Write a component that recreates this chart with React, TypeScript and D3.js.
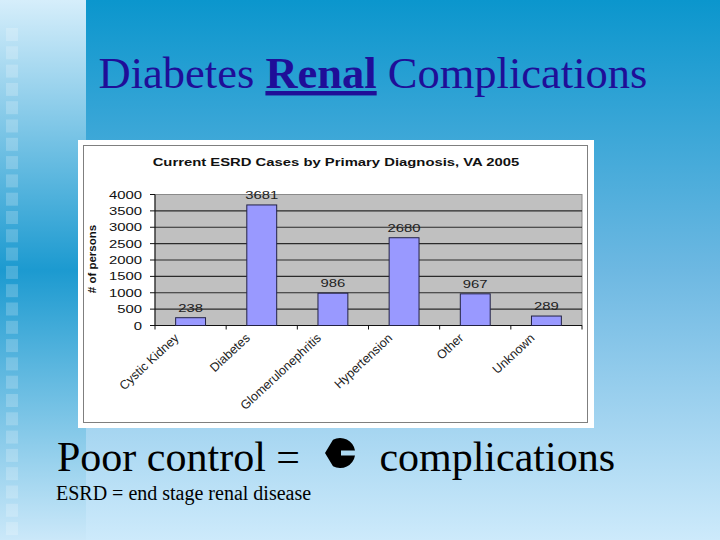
import React from "react";
import * as d3 from "d3";

const categories = ["Cystic Kidney", "Diabetes", "Glomerulonephritis", "Hypertension", "Other", "Unknown"];
const values = [238, 3681, 986, 2680, 967, 289];
const yTicks = [0, 500, 1000, 1500, 2000, 2500, 3000, 3500, 4000];
const chartTitle = "Current ESRD Cases by Primary Diagnosis, VA 2005";
const yTitle = "# of persons";

const W = 720, H = 540;
const PX0 = 155, PX1 = 582, PY0 = 194.5, PY1 = 325.5;
const SX = 1.35; // horizontal stretch of the pasted chart image

const SANS = { fontFamily: "Liberation Sans" };
const SERIF = { fontFamily: "Liberation Serif" };

export default function App() {
  const x = d3.scaleBand<string>().domain(categories).range([PX0, PX1]).paddingInner(0.58).paddingOuter(0.29);
  const y = d3.scaleLinear().domain([0, 4000]).range([PY1, PY0]);
  const step = x.step();
  const bw = x.bandwidth();
  const squares = d3.range(28).map((i) => 28 + i * 18.3);

  return (
    <svg width={W} height={H} style={{ display: "block", position: "absolute", left: 0, top: 0 }}>
      <defs>
        <linearGradient id="bgMain" x1="0" y1="0" x2="0" y2="1">
          <stop offset="0" stopColor="#0b96cd" />
          <stop offset="0.5" stopColor="#6db8e2" />
          <stop offset="1" stopColor="#cdeafb" />
        </linearGradient>
        <linearGradient id="bgLeft" x1="0" y1="0" x2="0" y2="1">
          <stop offset="0" stopColor="#d6eefb" />
          <stop offset="0.5" stopColor="#1c9ad0" />
          <stop offset="1" stopColor="#cbe8f9" />
        </linearGradient>
      </defs>
      <rect x={0} y={0} width={W} height={H} fill="url(#bgMain)" />
      <rect x={0} y={0} width={86} height={H} fill="url(#bgLeft)" />
      {squares.map((sy, i) => (
        <rect key={i} x={6} y={sy} width={12} height={13} fill="#ffffff" opacity={0.2} />
      ))}

      {/* Slide title */}
      <text x={373} y={88} textAnchor="middle" style={SERIF} fontSize={44.5} fill="#1f0e98">
        Diabetes <tspan fontWeight="bold" textDecoration="underline" style={SERIF}>Renal</tspan> Complications
      </text>

      {/* Chart box */}
      <rect x={78} y={140} width={516} height={288} fill="#ffffff" />
      <rect x={83.5} y={145.5} width={504} height={277} fill="none" stroke="#7f7f7f" strokeWidth={1} />
      <g transform={`translate(336,166) scale(${SX},1)`}>
        <text textAnchor="middle" style={SANS} fontWeight="bold" fontSize={11} fill="#111">{chartTitle}</text>
      </g>

      {/* Plot area */}
      <rect x={PX0} y={PY0} width={PX1 - PX0} height={PY1 - PY0} fill="#c0c0c0" stroke="#8a8a8a" strokeWidth={1} />
      {yTicks.filter((t) => t > 0 && t < 4000).map((t) => (
        <line key={t} x1={PX0} x2={PX1} y1={y(t)} y2={y(t)} stroke="#2a2a2a" strokeWidth={1.2} />
      ))}
      <line x1={PX0} x2={PX0} y1={PY0} y2={PY1} stroke="#111" strokeWidth={1} />
      <line x1={PX0} x2={PX1} y1={PY1} y2={PY1} stroke="#111" strokeWidth={1} />
      {yTicks.map((t) => (
        <g key={t}>
          <line x1={PX0 - 5} x2={PX0} y1={y(t)} y2={y(t)} stroke="#111" />
          <g transform={`translate(142,${y(t) + 4}) scale(${SX},1)`}>
            <text textAnchor="end" style={SANS} fontSize={11} fill="#111">{t}</text>
          </g>
        </g>
      ))}
      {d3.range(categories.length + 1).map((i) => (
        <line key={i} x1={PX0 + i * step} x2={PX0 + i * step} y1={PY1} y2={PY1 + 4} stroke="#111" />
      ))}

      {/* bars */}
      {categories.map((c, i) => (
        <g key={c}>
          <rect x={x(c)!} y={y(values[i])} width={bw} height={PY1 - y(values[i])} fill="#9999ff" stroke="#222244" strokeWidth={1} />
          <g transform={`translate(${x(c)! + bw / 2},${y(values[i]) - 6}) scale(${SX},1)`}>
            <text textAnchor="middle" style={SANS} fontSize={11} fill="#222">{values[i]}</text>
          </g>
        </g>
      ))}

      {/* x labels */}
      {categories.map((c) => {
        const cx = x(c)! + bw / 2 - 11;
        return (
          <text key={c} transform={`translate(${cx},339) rotate(-43)`} textAnchor="end" style={SANS} fontSize={12.5} fill="#222">
            {c}
          </text>
        );
      })}

      {/* y title */}
      <text transform="translate(96,259) rotate(-90)" textAnchor="middle" style={SANS} fontWeight="bold" fontSize={11.5} fill="#111">
        {yTitle}
      </text>

      {/* bottom texts */}
      <text x={57} y={471} style={SERIF} fontSize={42} fill="#000">Poor control =</text>
      <g transform="translate(340,453)">
        <path
          d="M -15 0 L -7 -13.2 A 15 15 0 0 1 15 -2.4 L 1 -2.4 L 1 2.4 L 15 2.4 A 15 15 0 0 1 -7 13.2 Z"
          fill="#000"
        />
      </g>
      <text x={615} y={471} textAnchor="end" style={SERIF} fontSize={42} fill="#000">complications</text>
      <text x={56} y={500} style={SERIF} fontSize={20} fill="#000">ESRD = end stage renal disease</text>
    </svg>
  );
}
